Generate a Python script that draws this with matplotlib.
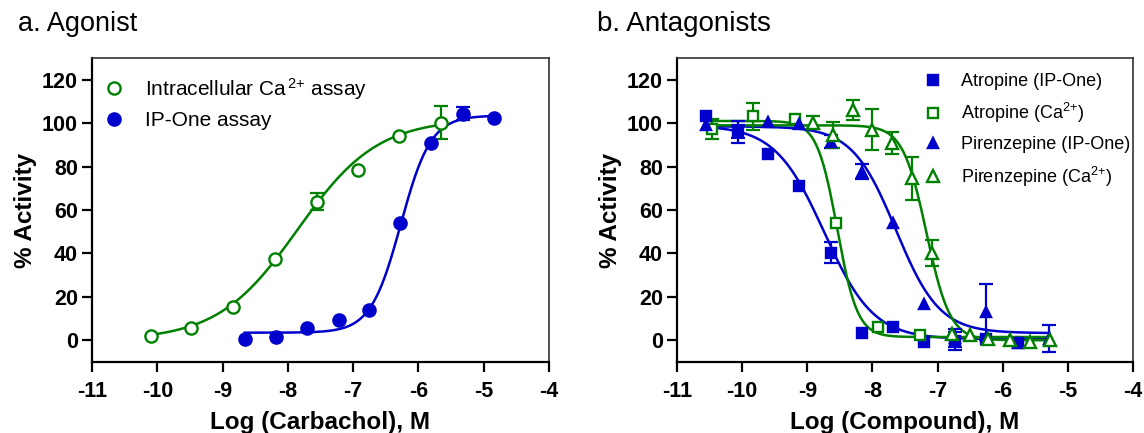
import matplotlib

matplotlib.use("Agg")
import matplotlib.pyplot as plt
import numpy as np

plt.rcParams["font.family"] = ["Liberation Sans", "DejaVu Sans"]
plt.rcParams["mathtext.fontset"] = "custom"
plt.rcParams["mathtext.rm"] = "Liberation Sans"
plt.rcParams["mathtext.it"] = "Liberation Sans:italic"
plt.rcParams["mathtext.bf"] = "Liberation Sans:bold"
plt.rcParams["axes.unicode_minus"] = False

GREEN = "#008000"
BLUE = "#0000CD"

# ---- a. Agonist (carbachol) ----
ca_x = [-10.1, -9.48, -8.84, -8.20, -7.56, -6.93, -6.29, -5.65]
ca_y = [1.8, 5.7, 15.2, 37.5, 63.9, 78.3, 94.3, 100.2]
ca_err = [0, 0, 0, 0, 4.0, 0, 0, 7.5]
ca_fit = [0.0, 102.0, -7.85, 0.71]  # bottom, top, logEC50, hill

ip_x = [-8.66, -8.18, -7.71, -7.22, -6.76, -6.28, -5.81, -5.32, -4.85]
ip_y = [0.6, 1.6, 5.7, 9.4, 14.1, 53.9, 91.0, 104.3, 102.5]
ip_err = [0, 0, 0, 0, 0, 0, 0, 3.0, 0]
ip_fit = [3.5, 103.5, -6.27, 1.88]

# ---- b. Antagonists ----
atr_ip_x = [-10.55, -10.07, -9.60, -9.12, -8.64, -8.16, -7.68, -7.21, -6.73, -6.25, -5.77]
atr_ip_y = [103.4, 96.0, 85.7, 71.1, 40.3, 3.5, 6.2, -0.8, -0.4, 0.5, -1.4]
atr_ip_err = [0, 5.0, 0, 0, 4.9, 0, 0, 0, 4.2, 0, 0]
atr_ip_fit = [0.5, 99.0, -8.74, -1.15]

atr_ca_x = [-10.46, -9.84, -9.19, -8.56, -7.92, -7.27]
atr_ca_y = [97.2, 103.1, 101.8, 53.8, 6.2, 2.3]
atr_ca_err = [4.5, 6.4, 0, 0, 0, 0]
atr_ca_fit = [1.5, 101.0, -8.54, -2.8]

pir_ip_x = [-10.55, -10.07, -9.60, -9.12, -8.64, -8.16, -7.68, -7.21, -6.73, -6.25, -5.77, -5.29]
pir_ip_y = [99.2, 96.0, 100.3, 99.7, 91.5, 77.7, 53.8, 16.9, 1.0, 13.1, -1.4, 0.7]
pir_ip_err = [0, 3.0, 0, 0, 3.0, 3.5, 0, 0, 4.2, 12.8, 0, 6.2]
pir_ip_fit = [3.3, 98.5, -7.64, -1.3]

pir_ca_x = [-8.91, -8.60, -8.30, -8.00, -7.70, -7.40, -7.09, -6.78, -6.50, -6.22, -5.89, -5.58, -5.27]
pir_ca_y = [100.1, 94.7, 106.0, 97.0, 90.8, 74.6, 40.0, 3.0, 2.3, 0.8, 0.0, -0.8, 0.0]
pir_ca_err = [3.0, 6.0, 4.5, 9.4, 5.0, 9.8, 6.0, 0, 0, 0, 0, 0, 0]
pir_ca_fit = [0.0, 99.0, -7.17, -2.4]


def logistic(x, p):
    bottom, top, logec50, hill = p
    return bottom + (top - bottom) / (1 + 10 ** ((logec50 - x) * hill))


def style_axes(ax, xlabel):
    ax.set_xlim(-11, -4)
    ax.set_ylim(-10, 130)
    ax.set_xticks(range(-11, -3))
    ax.set_yticks(range(0, 121, 20))
    ax.set_xlabel(xlabel, fontsize=17.5, fontweight="bold", labelpad=6)
    ax.set_ylabel("% Activity", fontsize=17.5, fontweight="bold", labelpad=4)
    for s in ("left", "bottom"):
        ax.spines[s].set_linewidth(1.6)
    for s in ("top", "right"):
        ax.spines[s].set_linewidth(1.2)
        ax.spines[s].set_color("#333333")
    ax.tick_params(direction="out", length=7, width=1.6, labelsize=15.5)
    ax.tick_params(axis="x", pad=7)
    ax.tick_params(axis="y", pad=3)
    for lab in ax.get_xticklabels() + ax.get_yticklabels():
        lab.set_fontweight("bold")


def series(ax, x, y, err, fit, color, marker, filled, ms, label, xr=None):
    x = np.asarray(x)
    lo, hi = xr if xr else (x.min(), x.max())
    xs = np.linspace(lo, hi, 300)
    ax.plot(xs, logistic(xs, fit), color=color, lw=1.8, zorder=2)
    err = np.asarray(err, dtype=float)
    m = err > 0
    ax.errorbar(x[m], np.asarray(y)[m], yerr=err[m], fmt="none", ecolor=color,
                elinewidth=1.6, capsize=5, capthick=1.6, zorder=3)
    ax.plot(x, y, linestyle="none", marker=marker, ms=ms, color=color,
            mfc=color if filled else "white", mec=color, mew=1.7,
            label=label, zorder=4)


fig = plt.figure(figsize=(11.44, 4.33), dpi=100)
axa = fig.add_axes([92 / 1144, 1 - 362 / 433, 457 / 1144, 304 / 433])
axb = fig.add_axes([677 / 1144, 1 - 362 / 433, 456 / 1144, 304 / 433])

series(axa, ca_x, ca_y, ca_err, ca_fit, GREEN, "o", False, 8.8,
       r"Intracellular Ca$^{\,2{+}}$ assay")
series(axa, ip_x, ip_y, ip_err, ip_fit, BLUE, "o", True, 8.8, "IP-One assay")
style_axes(axa, "Log (Carbachol), M")
axa.legend(loc="upper left", bbox_to_anchor=(104 / 1144, 1 - 76 / 433),
           bbox_transform=fig.transFigure, frameon=False, fontsize=15,
           handlelength=1.0, handletextpad=0.95, borderpad=0,
           labelspacing=0.45, borderaxespad=0)

rng = (-10.55, -5.28)
series(axb, atr_ip_x, atr_ip_y, atr_ip_err, atr_ip_fit, BLUE, "s", True, 7,
       "Atropine (IP-One)", rng)
series(axb, atr_ca_x, atr_ca_y, atr_ca_err, atr_ca_fit, GREEN, "s", False, 7.5,
       r"Atropine (Ca$^{2{+}}$)", rng)
series(axb, pir_ip_x, pir_ip_y, pir_ip_err, pir_ip_fit, BLUE, "^", True, 7.5,
       "Pirenzepine (IP-One)", rng)
series(axb, pir_ca_x, pir_ca_y, pir_ca_err, pir_ca_fit, GREEN, "^", False, 8,
       r"Pirenzepine (Ca$^{2{+}}$)", rng)
style_axes(axb, "Log (Compound), M")
axb.legend(loc="upper left", bbox_to_anchor=(924 / 1144, 1 - 73 / 433),
           bbox_transform=fig.transFigure, frameon=False, fontsize=13,
           handlelength=1.0, handletextpad=1.05, borderpad=0,
           labelspacing=0.62, borderaxespad=0)

fig.text(18 / 1144, 1 - 24 / 433, "a. Agonist", fontsize=19.5, va="center")
fig.text(597 / 1144, 1 - 24 / 433, "b. Antagonists", fontsize=20, va="center")

fig.savefig("out.png", dpi=100)
